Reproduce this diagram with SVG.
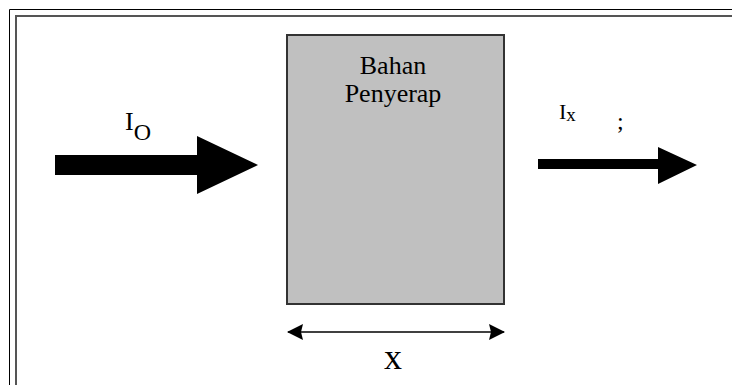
<svg xmlns="http://www.w3.org/2000/svg" width="732" height="385" viewBox="0 0 732 385">
  <style>
    text { font-family: "Liberation Serif", "DejaVu Serif", "Times New Roman", serif; fill: #000; }
    .frame-outer { fill: none; stroke: #000; stroke-width: 1; }
    .frame-inner { fill: none; stroke: #555; stroke-width: 2; }
    .block { fill: #c0c0c0; stroke: #333; stroke-width: 2; }
    .beam { fill: #000; }
    .dim { stroke: #000; stroke-width: 1.5; fill: none; }
  </style>
  <defs>
    <marker id="dimHead" viewBox="0 0 16 16" refX="15" refY="8" markerWidth="16" markerHeight="16" markerUnits="userSpaceOnUse" orient="auto-start-reverse">
      <path d="M0,0 L16,8 L0,16 L2,8 Z" fill="#000"/>
    </marker>
  </defs>

  <rect x="0" y="0" width="732" height="385" fill="#fff"/>

  <!-- double frame -->
  <path class="frame-outer" d="M9.5,385 V9.5 H732"/>
  <path class="frame-inner" d="M16,385 V16 H732"/>

  <!-- absorbing material block -->
  <g id="bahan-penyerap">
    <rect class="block" x="287" y="35" width="217" height="269"/>
    <text x="393" y="74" font-size="26" text-anchor="middle">Bahan</text>
    <text x="393" y="102" font-size="26" text-anchor="middle">Penyerap</text>
  </g>

  <!-- incident beam I0 -->
  <g id="incident-beam">
    <polygon class="beam" points="55,155 197,155 197,136 258,165 197,194 197,175 55,175"/>
    <text x="125" y="130" font-size="26">I<tspan font-size="24" dy="10">O</tspan></text>
  </g>

  <!-- transmitted beam Ix -->
  <g id="transmitted-beam">
    <polygon class="beam" points="538,159 658,159 658,147 697,165 658,184 658,169 538,169"/>
    <text x="559" y="119" font-size="22">I<tspan font-size="19" dy="2">x</tspan></text>
    <text x="617" y="129" font-size="24" fill="#bbb">;</text>
  </g>

  <!-- thickness dimension -->
  <g id="connectors">
    <line class="dim" x1="288" y1="332" x2="504" y2="332" marker-start="url(#dimHead)" marker-end="url(#dimHead)"/>
  </g>
  <g id="thickness-label">
    <text x="393" y="369" font-size="36" text-anchor="middle">x</text>
  </g>
</svg>
